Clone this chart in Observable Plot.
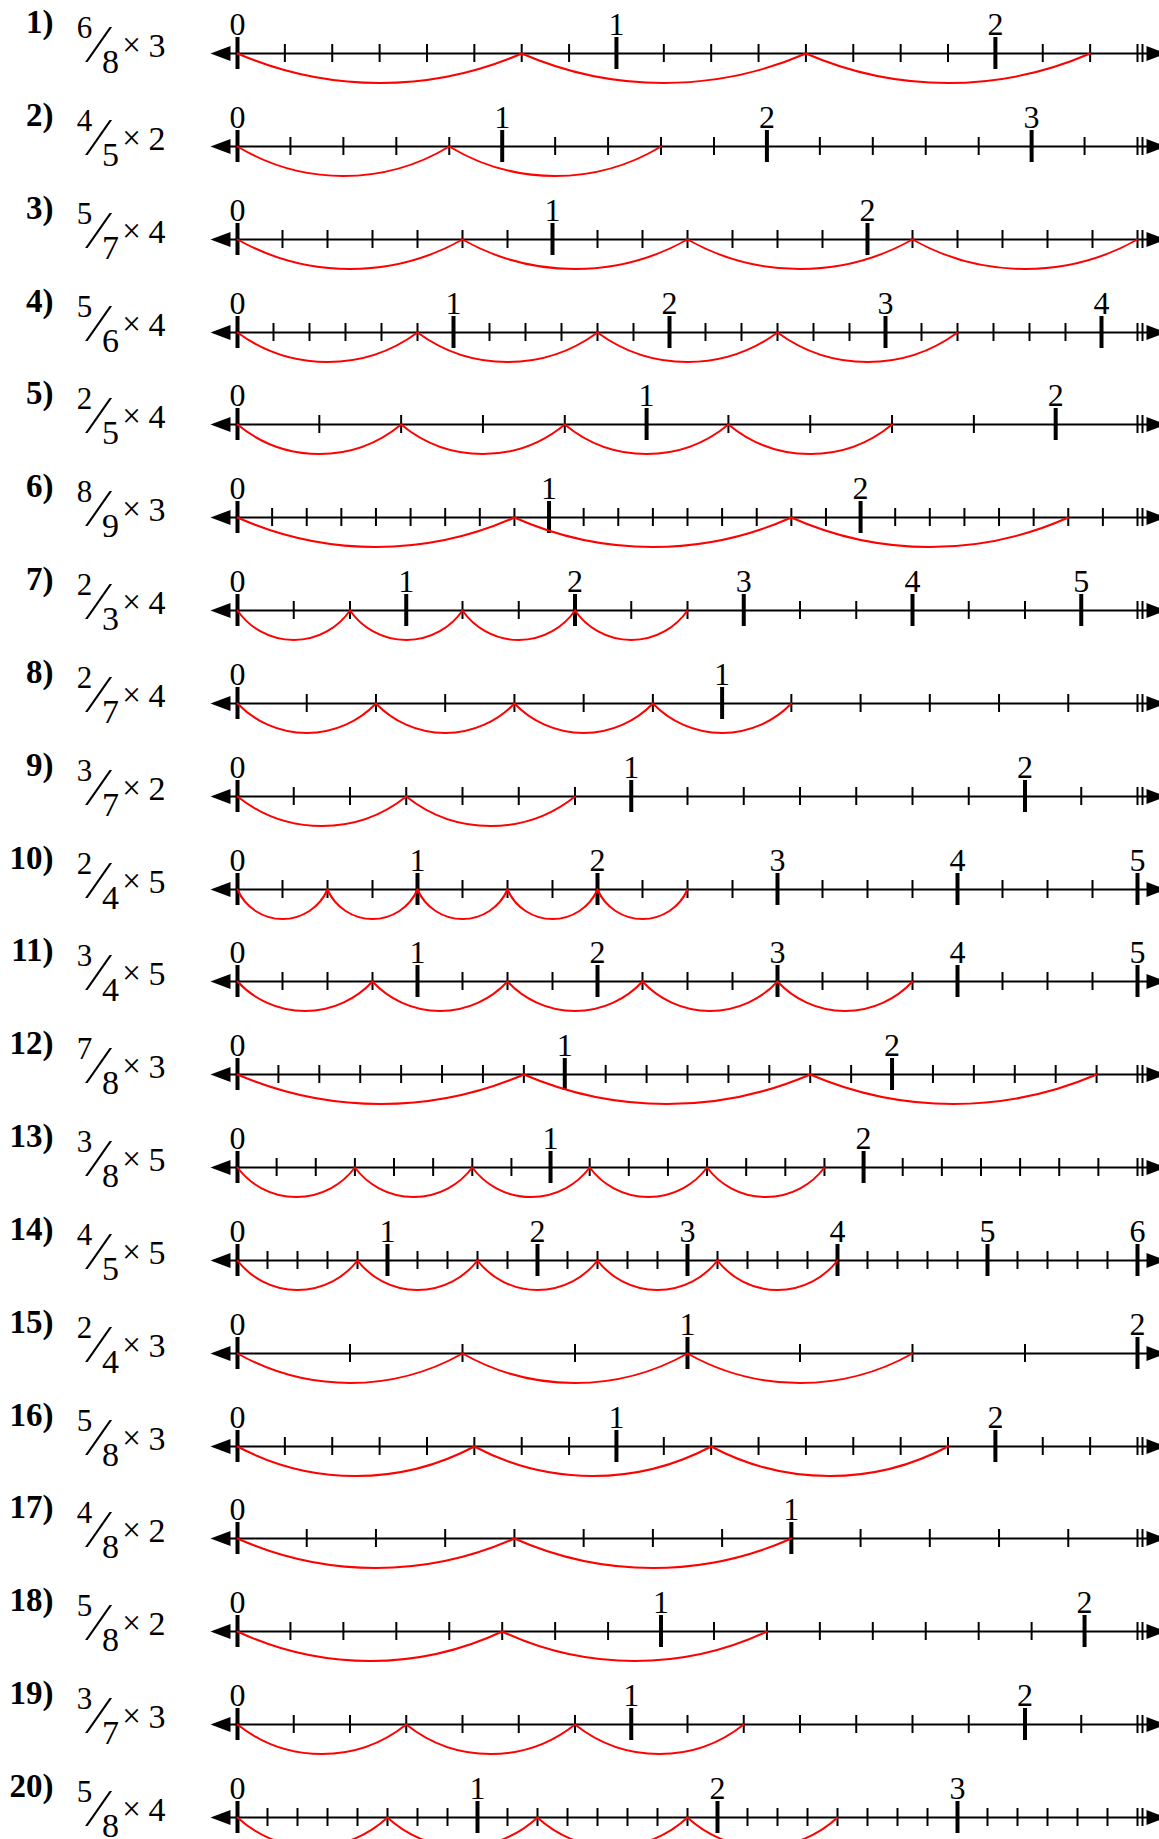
<!DOCTYPE html>
<html>
<head>
<meta charset="utf-8">
<script src="https://cdn.jsdelivr.net/npm/d3@7"></script>
<script src="https://cdn.jsdelivr.net/npm/@observablehq/plot@0.6"></script>
<style>
html, body { margin: 0; padding: 0; background: #fff; overflow: hidden; }
#page { position: relative; width: 1159px; height: 1839px; overflow: hidden; background: #fff; }
#page .row { position: absolute; left: 0; width: 1159px; }
#page svg { overflow: visible; background: transparent; display: block; }
</style>
</head>
<body>
<div id="page"></div>
<script>
// Problem data: fraction n/d multiplied by k; the number line runs over tickCount steps of 1/d
const numerators   = [6, 4, 5, 5, 2, 8, 2, 2, 3, 2, 3, 7, 3, 4, 2, 5, 4, 5, 3, 5];
const denominators = [8, 5, 7, 6, 5, 9, 3, 7, 7, 4, 4, 8, 8, 5, 4, 8, 8, 8, 7, 8];
const multipliers  = [3, 2, 4, 4, 4, 3, 4, 4, 2, 5, 5, 3, 5, 5, 3, 3, 2, 2, 3, 4];
const tickCounts   = [19, 17, 20, 25, 11, 26, 16, 13, 16, 20, 20, 22, 23, 30, 8, 19, 13, 17, 16, 30];

// Layout / style constants
const W = 1159, H = 93, LINE_Y = 45, FIRST_LINE = 53, PITCH = 92.84;
const X0 = 237, X1 = 1137;
const SAG = 29.5;
const SERIF = '"Liberation Serif", "Times New Roman", Times, serif';

const arrowLeft = {draw(ctx) { ctx.moveTo(0, -7.5); ctx.lineTo(-20, 0); ctx.lineTo(0, 7.5); ctx.closePath(); }};
const arrowRight = {draw(ctx) { ctx.moveTo(0, -7.5); ctx.lineTo(20, 0); ctx.lineTo(0, 7.5); ctx.closePath(); }};

const page = document.getElementById("page");

numerators.forEach((n, i) => {
  const d = denominators[i], k = multipliers[i], t = tickCounts[i];
  const max = t / d;
  const minor = d3.range(t + 1).map(j => j / d);
  const major = d3.range(Math.floor(t / d) + 1);
  const jumps = d3.range(k).map(j => ({x1: j * n / d, x2: (j + 1) * n / d}));
  const chord = (n / d) / max * (X1 - X0);
  const bend = -2 * Math.atan(2 * SAG / chord) * 180 / Math.PI;

  const marks = [
    Plot.ruleY([0], {y: d => d, insetLeft: -20, insetRight: -12, stroke: "black", strokeWidth: 2.2}),
    Plot.tickX(minor, {x: d => d, insetTop: 7, insetBottom: 7, stroke: "black", strokeWidth: 2}),
    t % d !== 0 ? Plot.tickX([max], {x: d => d, dx: 5, insetTop: 7, insetBottom: 7, stroke: "black", strokeWidth: 2}) : null,
    Plot.tickX(major, {x: d => d, stroke: "black", strokeWidth: 4}),
    Plot.arrow(jumps, {x1: "x1", x2: "x2", y: () => 0, bend, headLength: 0, stroke: "red", strokeWidth: 2}),
    Plot.dot([0], {x: d => d, y: () => 0, dx: -7, symbol: arrowLeft, fill: "black", r: 5}),
    Plot.dot([max], {x: d => d, y: () => 0, dx: 9, symbol: arrowRight, fill: "black", r: 5}),
    Plot.text(major, {x: d => d, text: d => String(d), frameAnchor: "top", lineAnchor: "bottom", dy: -3,
      fontSize: 32, fontFamily: SERIF, fill: "black"}),
    // Problem label and expression
    Plot.text([`${i + 1})`], {text: d => d, frameAnchor: "left", textAnchor: "end", lineAnchor: "bottom",
      dx: 53 - X0, dy: -21, fontSize: 33, fontWeight: "bold", fontFamily: SERIF, fill: "black"}),
    Plot.text([String(n)], {text: d => d, frameAnchor: "left", textAnchor: "middle", lineAnchor: "bottom",
      dx: 84 - X0, dy: -16, fontSize: 31, fontFamily: SERIF, fill: "black"}),
    Plot.text(["\u2044"], {text: d => d, frameAnchor: "left", textAnchor: "middle", lineAnchor: "middle",
      dx: 98 - X0, dy: -8, fontSize: 52, fontFamily: SERIF, fill: "black"}),
    Plot.text([String(d)], {text: d => d, frameAnchor: "left", textAnchor: "middle", lineAnchor: "bottom",
      dx: 110 - X0, dy: 19, fontSize: 34, fontFamily: SERIF, fill: "black"}),
    Plot.text(["\u00d7"], {text: d => d, frameAnchor: "left", textAnchor: "middle", lineAnchor: "middle",
      dx: 131 - X0, dy: -8, fontSize: 33, fontFamily: SERIF, fill: "black"}),
    Plot.text([String(k)], {text: d => d, frameAnchor: "left", textAnchor: "start", lineAnchor: "bottom",
      dx: 148 - X0, dy: 3, fontSize: 34, fontFamily: SERIF, fill: "black"})
  ].filter(Boolean);

  const svg = Plot.plot({
    width: W, height: H,
    marginLeft: X0, marginRight: W - X1,
    marginTop: LINE_Y - 16, marginBottom: H - LINE_Y - 16,
    x: {domain: [0, max], axis: null},
    y: {domain: [-1, 1], axis: null},
    style: {background: "transparent", overflow: "visible"},
    marks
  });
  const row = document.createElement("div");
  row.className = "row";
  row.style.top = (FIRST_LINE + i * PITCH - LINE_Y) + "px";
  row.appendChild(svg);
  page.appendChild(row);
});
</script>
</body>
</html>
